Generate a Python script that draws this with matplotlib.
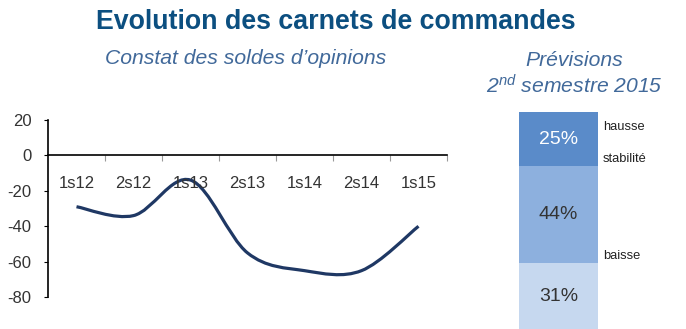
import numpy as np
import matplotlib
matplotlib.use('Agg')
import matplotlib.pyplot as plt
from matplotlib.path import Path
from matplotlib.patches import PathPatch

plt.rcParams['font.family'] = ['Liberation Sans', 'DejaVu Sans']
plt.rcParams['mathtext.fontset'] = 'custom'
plt.rcParams['mathtext.rm'] = 'Liberation Sans'
plt.rcParams['mathtext.it'] = 'Liberation Sans:italic'
plt.rcParams['axes.unicode_minus'] = False

# Soldes d'opinions par semestre
semestres = ['1s12', '2s12', '1s13', '2s13', '1s14', '2s14', '1s15']
soldes = [-29, -34, -14, -55, -65, -65, -40]

# Previsions 2nd semestre 2015 (bas -> haut)
prev_labels = ['baisse', 'stabilité', 'hausse']
prev_values = [31, 44, 25]

title_col = '#0c4f80'
sub_col = '#41699a'
line_col = '#1f3864'
text_col = '#333333'
bar_cols = ['#c6d8ef', '#8db0de', '#5a8bc9']

fig = plt.figure(figsize=(6.86, 3.29), dpi=100)

fig.text(336/686, 1 - 22/329, 'Evolution des carnets de commandes', ha='center', va='center',
         fontsize=19.3, fontweight='bold', color=title_col)
fig.text(246/686, 1 - 59/329, 'Constat des soldes d\u2019opinions', ha='center', va='center',
         fontsize=15.2, style='italic', color=sub_col)
fig.text(574/686, 1 - 60/329, 'Prévisions', ha='center', va='center',
         fontsize=15.2, style='italic', color=sub_col)
fig.text(574/686, 1 - 86/329, '2$^{nd}$ semestre 2015', ha='center', va='center',
         fontsize=15.2, style='italic', color=sub_col)

# Line chart
ax = fig.add_axes([48/686, 1 - 297.3/329, 399/686, 177.6/329])
ax.set_xlim(0, len(semestres))
ax.set_ylim(-80, 20)
ax.spines['top'].set_visible(False)
ax.spines['right'].set_visible(False)
ax.spines['bottom'].set_position(('data', 0))
ax.spines['left'].set_linewidth(1.2)
ax.spines['bottom'].set_linewidth(1.2)

ax.set_yticks([20, 0, -20, -40, -60, -80])
ax.tick_params(axis='y', length=3, width=0.8, pad=9, labelsize=12, labelcolor=text_col)
xc = np.arange(len(semestres)) + 0.5
ax.set_xticks(xc)
ax.set_xticklabels(semestres)
ax.tick_params(axis='x', which='major', length=0, pad=15, labelsize=12, labelcolor=text_col)
ax.set_xticks(np.arange(1, len(semestres) + 1), minor=True)
ax.tick_params(axis='x', which='minor', length=4, width=0.8, color='#999999')

# smoothed curve through the points (Catmull-Rom as cubic Bezier)
pts = np.column_stack([xc, soldes])
ext = np.vstack([pts[0], pts, pts[-1]])
verts = [pts[0]]
codes = [Path.MOVETO]
for i in range(len(pts) - 1):
    p0, p1, p2, p3 = ext[i], ext[i + 1], ext[i + 2], ext[i + 3]
    verts += [p1 + (p2 - p0) / 6, p2 - (p3 - p1) / 6, p2]
    codes += [Path.CURVE4] * 3
ax.add_patch(PathPatch(Path(verts, codes), fill=False, edgecolor=line_col,
                       linewidth=2.3, capstyle='butt'))

# Stacked bar
ax2 = fig.add_axes([519/686, 0, 79/686, 1 - 111.7/329])
ax2.set_xlim(0, 1)
ax2.set_ylim(100 - 217.3 / 2.19, 100)
ax2.axis('off')
bottom = 0
for lab, val, col in zip(prev_labels, prev_values, bar_cols):
    ax2.bar(0.5, val, width=1, bottom=bottom, color=col, edgecolor='none')
    tc = 'white' if lab == 'hausse' else text_col
    ax2.text(0.5, bottom + val / 2, f'{val}%', ha='center', va='center',
             fontsize=14, color=tc)
    bottom += val

label_y = {'hausse': 1 - 127/329, 'stabilité': 1 - 159/329, 'baisse': 1 - 256/329}
for lab in prev_labels:
    fig.text(603/686, label_y[lab], lab, ha='left', va='center', fontsize=9.3, color='#222222')

fig.savefig('out.png', dpi=100)
